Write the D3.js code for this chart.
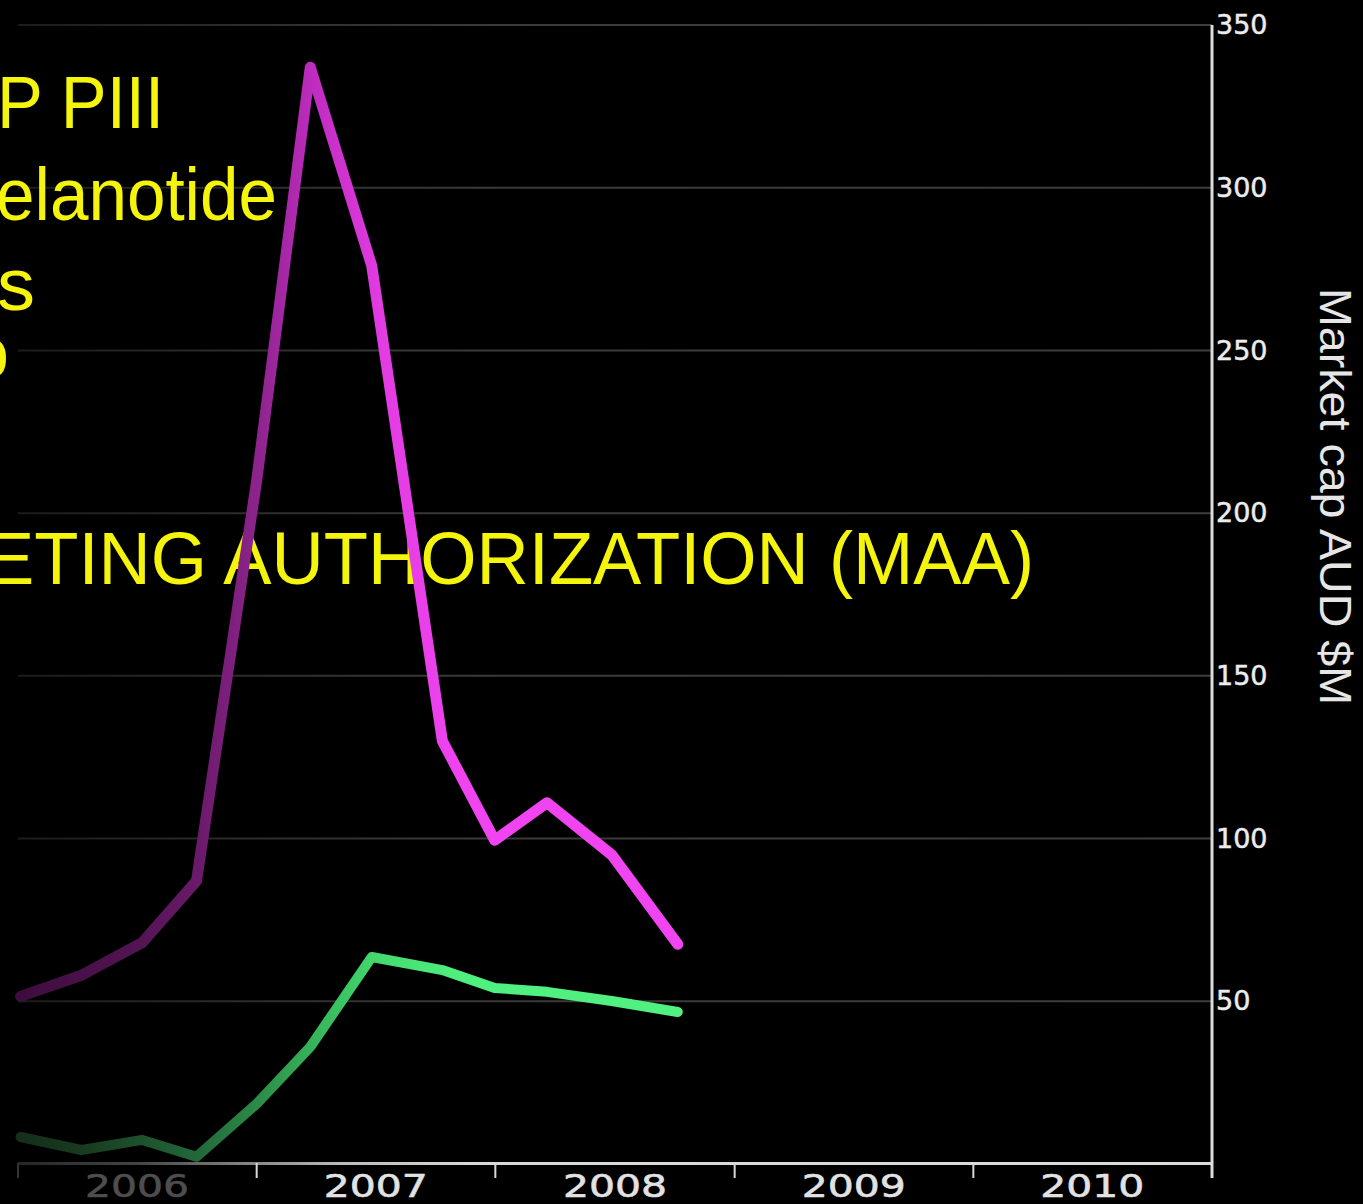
<!DOCTYPE html>
<html>
<head>
<meta charset="utf-8">
<script src="https://cdn.jsdelivr.net/npm/d3@7"></script>
<style>
  html, body { margin: 0; padding: 0; background: #000; }
  svg { display: block; }
</style>
</head>
<body>
<div id="chart"></div>
<script>
// quarterly-ish readings
var dates = ["2006-01-05", "2006-04-08", "2006-07-10", "2006-10-01", "2007-01-01", "2007-03-24",
             "2007-06-26", "2007-10-12", "2007-12-31", "2008-03-20", "2008-06-27", "2008-10-06"];
var magentaValues = [51.5, 58, 68, 87, 210, 337, 276, 130, 99.5, 111, 95, 67.5];
var greenValues = [8.3, 4.3, 7.4, 2.2, 18.5, 36, 63.6, 59.6, 54.1, 52.9, 50.1, 46.7];
var years = ["2006", "2007", "2008", "2009", "2010"];
var yTicks = [50, 100, 150, 200, 250, 300, 350];
var yTitle = "Market cap AUD $M";
var overlayLines = [
	{ text: "P PIII", x: -3, y: 128, len: 167 },
	{ text: "elanotide", x: -4, y: 220, len: 281 },
	{ text: "s", x: -3, y: 310, len: 38 },
	{ text: "o", x: -31, y: 378, len: 40 },
	{ text: "ETING AUTHORIZATION (MAA)", x: -14, y: 584, len: 1048 }
];

var width = 1363, height = 1204;
var parse = d3.timeParse("%Y-%m-%d");

var x = d3.scaleTime()
	.domain([new Date(2006, 0, 1), new Date(2011, 0, 1)])
	.range([18, 1212]);
var y = d3.scaleLinear()
	.domain([0, 350])
	.range([1164, 25]);

var svg = d3.select("#chart").append("svg")
	.attr("width", width)
	.attr("height", height)
	.style("background", "#000");

var defs = svg.append("defs");

/*
 * Left side fades to black: gradients on the strokes
 */
function fade(id, stops) {
	var g = defs.append("linearGradient")
		.attr("id", id)
		.attr("gradientUnits", "userSpaceOnUse")
		.attr("x1", 0).attr("x2", width).attr("y1", 0).attr("y2", 0);
	stops.forEach(function(s) {
		g.append("stop").attr("offset", s[0]).attr("stop-color", s[1]);
	});
}
fade("fadeMagenta", [[0, "#3a0c3a"], [0.1, "#521452"], [0.145, "#6a1a6a"], [0.19, "#8e248e"], [0.23, "#c02cc0"], [0.28, "#e23ce2"], [0.34, "#f044f0"], [1, "#f246f2"]]);
fade("fadeGreen", [[0, "#132c19"], [0.06, "#183a20"], [0.145, "#22683a"], [0.19, "#2c8c47"], [0.23, "#36b45a"], [0.28, "#44dc6e"], [0.34, "#50f080"], [1, "#54f282"]]);
fade("fadeAxis", [[0, "#222"], [0.1, "#444"], [0.25, "#bbb"], [0.35, "#d8d8d8"], [1, "#dcdcdc"]]);
fade("fadeGrid", [[0, "#1a1a1a"], [0.2, "#2e2e2e"], [0.35, "#3a3a3a"], [1, "#3e3e3e"]]);

// gridlines
svg.append("g").attr("class", "grid")
	.selectAll("line")
	.data(yTicks)
	.enter().append("line")
		.attr("x1", 18)
		.attr("x2", 1212)
		.attr("y1", function(d) { return y(d); })
		.attr("y2", function(d) { return y(d); })
		.attr("stroke", "url(#fadeGrid)")
		.attr("stroke-width", 2);

// yellow slide text, sits under the lines
svg.append("g").attr("class", "overlay")
	.selectAll("text")
	.data(overlayLines)
	.enter().append("text")
		.attr("x", function(d) { return d.x; })
		.attr("y", function(d) { return d.y; })
		.attr("textLength", function(d) { return d.len; })
		.attr("lengthAdjust", "spacingAndGlyphs")
		.attr("font-family", "'Liberation Sans', Arial, sans-serif")
		.attr("font-size", 75)
		.attr("fill", "#f4f40c")
		.text(function(d) { return d.text; });

// x axis
var xAxis = svg.append("g").attr("class", "x axis");
xAxis.append("line")
	.attr("x1", x.range()[0]).attr("x2", x.range()[1])
	.attr("y1", 1163.5).attr("y2", 1163.5)
	.attr("stroke", "url(#fadeAxis)")
	.attr("stroke-width", 3);

var yearStarts = years.map(function(d) { return new Date(+d, 0, 1); }).concat([new Date(2011, 0, 1)]);
xAxis.selectAll(".tick")
	.data(yearStarts)
	.enter().append("line")
		.attr("class", "tick")
		.attr("x1", function(d) { return x(d); })
		.attr("x2", function(d) { return x(d); })
		.attr("y1", 1163)
		.attr("y2", 1178)
		.attr("stroke", function(d, i) { return i === 0 ? "#333" : "#d8d8d8"; })
		.attr("stroke-width", 2);

xAxis.selectAll(".label")
	.data(years)
	.enter().append("text")
		.attr("class", "label")
		.attr("x", function(d) { return x(new Date(+d, 6, 2)); })
		.attr("y", 1197)
		.attr("text-anchor", "middle")
		.attr("textLength", 104)
		.attr("lengthAdjust", "spacingAndGlyphs")
		.attr("font-family", "'DejaVu Sans', Verdana, sans-serif")
		.attr("font-size", 32)
		.attr("stroke-width", 0.6)
		.attr("fill", function(d, i) { return i === 0 ? "#4e4e4e" : "#e2e2e2"; })
		.attr("stroke", function(d, i) { return i === 0 ? "#4e4e4e" : "#e2e2e2"; })
		.text(function(d) { return d; });

// y axis on the right
var yAxis = svg.append("g")
	.attr("class", "y axis")
	.attr("transform", "translate(1212,0)")
	.call(d3.axisRight(y).tickValues(yTicks).tickSize(0).tickPadding(4));
yAxis.select(".domain").remove();
yAxis.selectAll("text")
	.attr("font-family", "'DejaVu Sans', Verdana, sans-serif")
	.attr("font-size", 27)
	.attr("fill", "#ececec")
	.attr("stroke", "#ececec")
	.attr("stroke-width", 0.5);
yAxis.append("line")
	.attr("x1", 0).attr("x2", 0)
	.attr("y1", y(350)).attr("y2", 1178)
	.attr("stroke", "#dcdcdc")
	.attr("stroke-width", 3);

svg.append("text")
	.attr("transform", "translate(1320," + 288 + ") rotate(90)")
	.attr("x", 0)
	.attr("y", 0)
	.attr("textLength", 417)
	.attr("lengthAdjust", "spacingAndGlyphs")
	.attr("font-family", "'Liberation Sans', Arial, sans-serif")
	.attr("font-size", 44)
	.attr("fill", "#e6e6e6")
	.text(yTitle);

// series lines
var line = d3.line()
	.x(function(d) { return x(d.date); })
	.y(function(d) { return y(d.value); });

function series(values) {
	return dates.map(function(d, i) { return { date: parse(d), value: values[i] }; });
}

svg.append("path")
	.datum(series(greenValues))
	.attr("d", line)
	.attr("fill", "none")
	.attr("stroke", "url(#fadeGreen)")
	.attr("stroke-width", 10)
	.attr("stroke-linejoin", "round")
	.attr("stroke-linecap", "round");

svg.append("path")
	.datum(series(magentaValues))
	.attr("d", line)
	.attr("fill", "none")
	.attr("stroke", "url(#fadeMagenta)")
	.attr("stroke-width", 11)
	.attr("stroke-linejoin", "round")
	.attr("stroke-linecap", "round");
</script>
</body>
</html>
